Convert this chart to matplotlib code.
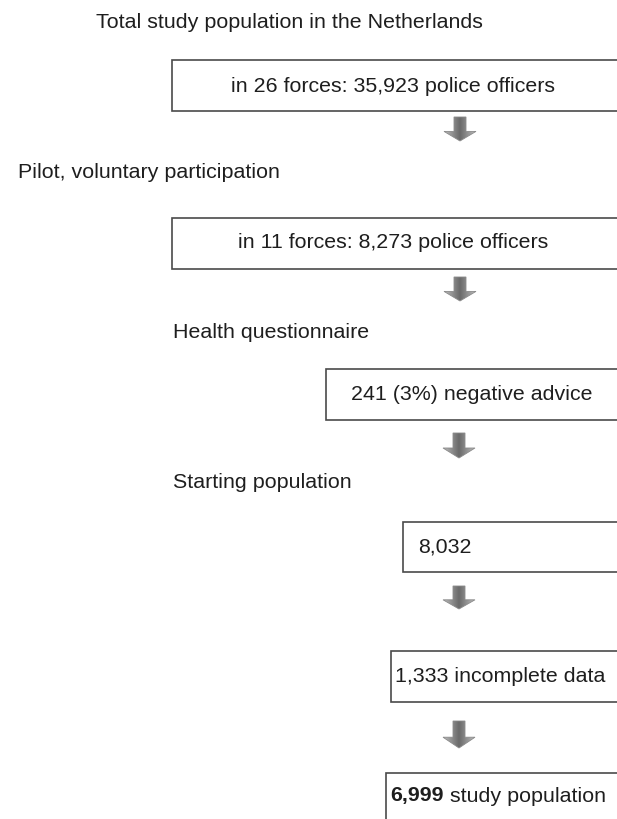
import numpy as np
import matplotlib.pyplot as plt
from matplotlib.patches import Rectangle, Polygon

plt.rcParams['font.family'] = ['Liberation Sans', 'DejaVu Sans']

# __Flowchart content__
stage_labels = ['Total study population in the Netherlands',
                'Pilot, voluntary participation',
                'Health questionnaire',
                'Starting population']
box_texts = ['in 26 forces: 35,923 police officers',
             'in 11 forces: 8,273 police officers',
             '241 (3%) negative advice',
             '8,032',
             '1,333 incomplete data',
             'study population']
final_count = '6,999'

# layout in pixels (x from left, y from top)
label_pos = [(96, 23), (18, 173), (173, 332), (173, 483)]
boxes = [(172, 60, 111), (172, 218, 269), (326, 369, 420),
         (403, 522, 572), (391, 651, 702), (386, 773, 840)]
text_pos = [(393, 86, 'center'), (393, 243, 'center'), (472, 394, 'center'),
            (418, 547, 'left'), (395, 676, 'left'), (390, 796, 'left')]
arrows = [(460, 117, 141), (460, 277, 301), (459, 433, 458),
          (459, 586, 609), (459, 721, 748)]

W, H = 617, 819
fig = plt.figure(figsize=(W / 100, H / 100), dpi=100)
ax = fig.add_axes([0, 0, 1, 1])
ax.set_xlim(0, W)
ax.set_ylim(H, 0)
ax.axis('off')

fs = 15.4
ink = '#1e1e1e'

for (x, y), s in zip(label_pos, stage_labels):
    ax.text(x, y, s, fontsize=fs, color=ink, ha='left', va='center')

for x0, y0, y1 in boxes:
    ax.add_patch(Rectangle((x0, y0), 700 - x0, y1 - y0, facecolor='white',
                           edgecolor='#4a4a4a', lw=1.2, clip_on=False))

for i, s in enumerate(box_texts[:-1]):
    x, y, ha = text_pos[i]
    ax.text(x, y, s, fontsize=fs, color=ink, ha=ha, va='center')

# last box: bold number followed by regular text
x, y, ha = text_pos[-1]
t = ax.text(x, y, final_count, fontsize=fs, color=ink, ha='left',
            va='center', fontweight='bold')
fig.canvas.draw()
bb = t.get_window_extent().transformed(ax.transData.inverted())
ax.text(bb.x1, y, ' ' + box_texts[-1], fontsize=fs, color=ink,
        ha='left', va='center')

# gray block arrows with a soft gradient
grad = np.linspace(0, 1, 64)
grad = 1 - np.abs(grad - 0.5) * 2
grad = np.tile(grad, (32, 1))
for cx, ytop, ybot in arrows:
    h = ybot - ytop
    ymid = ytop + h * 0.6
    pts = [(cx - 6, ytop), (cx + 6, ytop), (cx + 6, ymid), (cx + 16, ymid),
           (cx, ybot), (cx - 16, ymid), (cx - 6, ymid)]
    poly = Polygon(pts, closed=True, facecolor='none', edgecolor='#8a8a8a', lw=0.6)
    ax.add_patch(poly)
    im = ax.imshow(grad, cmap='Greys', vmin=-1.3, vmax=2.2,
                   extent=(cx - 16, cx + 16, ybot, ytop), aspect='auto',
                   interpolation='bilinear')
    im.set_clip_path(poly)

ax.set_xlim(0, W)
ax.set_ylim(H, 0)
fig.savefig('out.png', dpi=100)
